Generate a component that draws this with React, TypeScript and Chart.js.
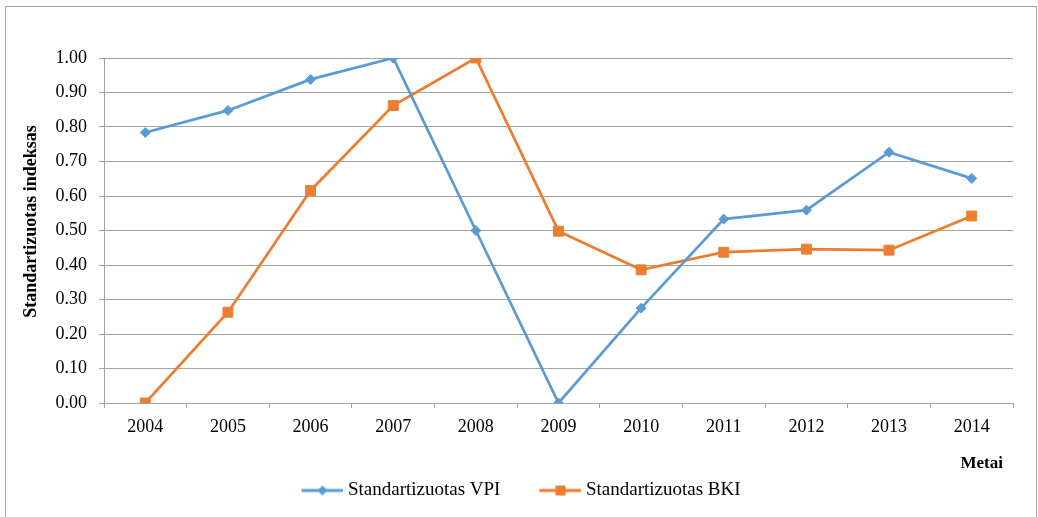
import React, { useEffect, useRef } from "react";
import { Chart, registerables } from "chart.js";

Chart.register(...registerables);

const years = ["2004", "2005", "2006", "2007", "2008", "2009", "2010", "2011", "2012", "2013", "2014"];
const vpiValues = [0.784, 0.848, 0.938, 1.0, 0.5, 0.0, 0.275, 0.533, 0.559, 0.727, 0.651];
const bkiValues = [0.0, 0.263, 0.616, 0.862, 1.0, 0.498, 0.386, 0.437, 0.446, 0.443, 0.542];
const seriesNames = ["Standartizuotas VPI", "Standartizuotas BKI"];
const yTitle = "Standartizuotas indeksas";
const xTitle = "Metai";

const BLUE = "#5B9BD5";
const ORANGE = "#ED7D31";
const GRID = "#a3a3a3";
const FONT = "'Liberation Serif', 'Times New Roman', serif";

function legendImage(color: string, style: "diamond" | "square"): HTMLCanvasElement {
  const c = document.createElement("canvas");
  c.width = 76;
  c.height = 14;
  const ctx = c.getContext("2d")!;
  ctx.strokeStyle = color;
  ctx.lineWidth = 3;
  ctx.beginPath();
  ctx.moveTo(34, 7);
  ctx.lineTo(76, 7);
  ctx.stroke();
  ctx.fillStyle = color;
  const cx = 55;
  if (style === "diamond") {
    ctx.beginPath();
    ctx.moveTo(cx, 2);
    ctx.lineTo(cx + 5, 7);
    ctx.lineTo(cx, 12);
    ctx.lineTo(cx - 5, 7);
    ctx.closePath();
    ctx.fill();
  } else {
    ctx.fillRect(cx - 5, 2, 10, 10);
  }
  return c;
}

const axisTitlesPlugin = {
  id: "axisTitlesCustom",
  afterDraw(chart: any) {
    const { ctx, chartArea } = chart;
    ctx.save();
    ctx.fillStyle = "#000";
    // x title, right aligned slightly inside plot's right edge
    ctx.font = `bold 17px ${FONT}`;
    ctx.textAlign = "right";
    ctx.textBaseline = "middle";
    ctx.fillText(xTitle, chartArea.right - 10, chartArea.bottom + 61);
    // y title, rotated
    ctx.font = `bold 18px ${FONT}`;
    ctx.translate(31, chartArea.top + (chartArea.bottom - chartArea.top) / 2 - 9);
    ctx.rotate(-Math.PI / 2);
    ctx.textAlign = "center";
    ctx.textBaseline = "middle";
    ctx.fillText(yTitle, 0, 0);
    ctx.restore();
  },
};

export default function App() {
  const ref = useRef<HTMLCanvasElement | null>(null);

  useEffect(() => {
    if (!ref.current) return;
    const imgs = [legendImage(BLUE, "diamond"), legendImage(ORANGE, "square")];
    const chart = new Chart(ref.current, {
      type: "line",
      data: {
        labels: years,
        datasets: [
          {
            label: seriesNames[0],
            data: vpiValues,
            borderColor: BLUE,
            backgroundColor: BLUE,
            pointBackgroundColor: BLUE,
            pointBorderColor: BLUE,
            pointStyle: "rectRot",
            pointRadius: 5,
            pointBorderWidth: 1,
            borderWidth: 2.75,
            tension: 0,
          },
          {
            label: seriesNames[1],
            data: bkiValues,
            borderColor: ORANGE,
            backgroundColor: ORANGE,
            pointBackgroundColor: ORANGE,
            pointBorderColor: ORANGE,
            pointStyle: "rect",
            pointRadius: 7,
            pointBorderWidth: 1,
            borderWidth: 2.75,
            tension: 0,
          },
        ],
      },
      options: {
        responsive: false,
        animation: false,
        layout: { padding: { top: 58, right: 25, bottom: 7, left: 0 } },
        plugins: {
          tooltip: { enabled: false },
          legend: {
            position: "bottom",
            labels: {
              usePointStyle: true,
              pointStyleWidth: 66,
              padding: 10,
              color: "#000",
              font: { family: FONT, size: 19 },
              generateLabels: (ch: any) => {
                const items = Chart.defaults.plugins.legend.labels.generateLabels(ch);
                return items.map((it: any, i: number) => ({ ...it, pointStyle: imgs[i] }));
              },
            },
          },
        },
        scales: {
          x: {
            type: "category",
            offset: true,
            afterFit: (s: any) => {
              s.height = 68;
            },
            grid: {
              display: true,
              drawOnChartArea: false,
              drawTicks: true,
              tickLength: 5,
              offset: true,
              color: GRID,
            },
            border: { display: true, color: GRID, width: 1 },
            ticks: {
              color: "#000",
              padding: 8,
              font: { family: FONT, size: 18 },
              maxRotation: 0,
            },
            title: { display: false, text: xTitle },
          },
          y: {
            min: 0,
            max: 1,
            afterFit: (s: any) => {
              s.width = 104;
            },
            grid: {
              color: GRID,
              drawTicks: true,
              tickLength: 5,
            },
            border: { display: true, color: GRID, width: 1 },
            ticks: {
              stepSize: 0.1,
              color: "#000",
              padding: 12,
              font: { family: FONT, size: 18 },
              callback: (v: any) => Number(v).toFixed(2),
            },
            title: { display: false, text: yTitle },
          },
        },
      },
      plugins: [axisTitlesPlugin],
    });
    return () => chart.destroy();
  }, []);

  return (
    <div
      style={{
        position: "absolute",
        left: 0,
        top: 0,
        width: 1038,
        height: 517,
        overflow: "hidden",
        background: "#fff",
      }}
    >
      <div
        style={{
          position: "absolute",
          left: 5,
          top: 6,
          width: 1032,
          height: 540,
          border: "1px solid #a6a6a6",
          boxSizing: "border-box",
        }}
      />
      <canvas
        ref={ref}
        width={1038}
        height={517}
        style={{ position: "absolute", left: 0, top: 0, width: 1038, height: 517 }}
      />
    </div>
  );
}
